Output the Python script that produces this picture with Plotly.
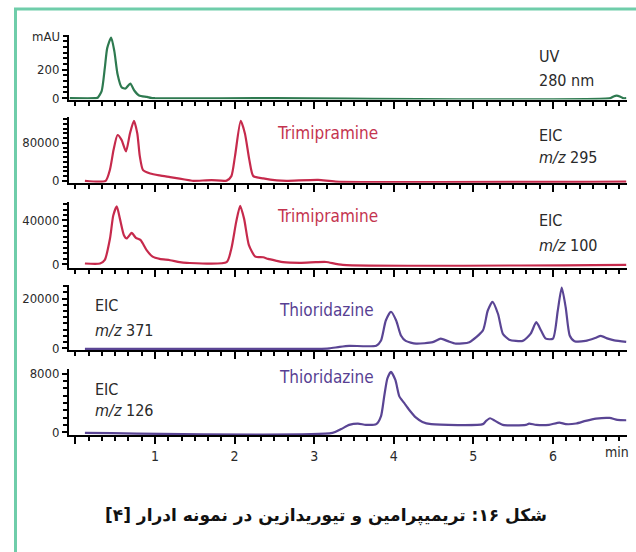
import plotly.graph_objects as go

W, H = 636, 552

# ---- chromatogram data: retention time (min) and detector response ----
uv_t = [-0.07, 0.25, 0.28, 0.33, 0.37, 0.40, 0.45, 0.49, 0.53, 0.58, 0.63, 0.69, 0.74,
        0.80, 0.90, 0.95, 1.00, 2.50, 6.72, 6.76, 6.80, 6.84, 6.88, 6.92]
uv_v = [0, 0, 3, 49, 213, 353, 428, 330, 168, 77, 68, 103, 54,
        19, 9, 2, 0, 0, 0, 12, 18, 12, 0, 0]

eic295_t = [0.12, 0.38, 0.435, 0.48, 0.53, 0.58, 0.636, 0.686, 0.736, 0.778, 0.81, 0.85,
            0.94, 1.06, 1.19, 1.31, 1.44, 1.48, 1.71, 1.90, 1.96, 2.005, 2.077, 2.13,
            2.185, 2.235, 2.36, 2.53, 2.65, 3.05, 3.27, 6.92]
eic295_v = [0, 0, 23900, 65500, 96700, 86300, 62000, 100000, 126400, 100000, 51500, 22500,
            15600, 11400, 7900, 4600, 1000, 0, 1500, 500, 10000, 51500, 126400, 100000,
            44700, 10000, 5200, 1000, 0, 2000, -1500, -1500]

eic100_t = [0.12, 0.31, 0.37, 0.435, 0.476, 0.52, 0.56, 0.61, 0.645, 0.707, 0.76, 0.82,
            0.895, 0.97, 1.06, 1.19, 1.31, 1.40, 1.90, 1.96, 2.02, 2.07, 2.12, 2.18,
            2.26, 2.36, 2.42, 2.53, 2.61, 2.82, 3.02, 3.15, 3.36, 6.92]
eic100_v = [600, 600, 3900, 23500, 44500, 53000, 41500, 26500, 23500, 28600, 24100, 22000,
            12900, 6900, 4800, 3600, 1800, 1200, 1800, 14400, 38500, 53500, 41500, 17400,
            6900, 6300, 4800, 3000, 1800, 1200, 1800, 2000, -600, -600]

eic371_t = [0.12, 3.05, 3.19, 3.32, 3.44, 3.78, 3.84, 3.90, 3.965, 4.03, 4.09, 4.15, 4.28,
            4.49, 4.59, 4.68, 4.78, 4.95, 5.12, 5.18, 5.24, 5.31, 5.37, 5.45, 5.62, 5.72,
            5.79, 5.85, 5.91, 6.00, 6.06, 6.11, 6.16, 6.21, 6.27, 6.41, 6.54, 6.60, 6.69,
            6.77, 6.92]
eic371_v = [-200, -200, 0, 600, 1000, 1100, 3200, 11200, 14700, 11200, 5200, 3000, 1900,
            2500, 3900, 2900, 1900, 2500, 7200, 15100, 18700, 13800, 5900, 3500, 3000, 5900,
            10500, 7200, 3900, 3900, 15100, 24400, 16400, 5200, 2900, 3000, 4300, 5000, 3900,
            3200, 2600]

eic126_t = [0.12, 3.23, 3.34, 3.44, 3.55, 3.65, 3.78, 3.84, 3.88, 3.92, 3.965, 4.02, 4.07,
            4.13, 4.19, 4.28, 4.36, 4.47, 5.12, 5.16, 5.21, 5.26, 5.37, 5.66, 5.70, 5.79,
            5.95, 6.08, 6.16, 6.29, 6.41, 6.54, 6.71, 6.81, 6.92]
eic126_v = [-100, -100, 430, 1000, 1180, 1000, 1100, 2200, 4900, 7330, 8230, 7120, 4880,
            3990, 3100, 1980, 1400, 1100, 1100, 1540, 1900, 1630, 1000, 1000, 1180, 1000,
            1000, 1310, 1100, 1180, 1540, 1850, 1940, 1670, 1630]

time_ticks = [0, 1, 2, 3, 4, 5, 6]
time_labels = ["", "1", "2", "3", "4", "5", "6"]

# ---- styling / layout ----
GREEN = "#2e7a50"
RED = "#c62a4c"
PURPLE = "#5a4594"
RED_TXT = "#c4344f"
PURPLE_TXT = "#583f93"
INK = "#2a2a2a"
FONT = "Liberation Sans Narrow, DejaVu Sans Condensed, Arial Narrow, sans-serif"
TICK_SIZE = 13

X0, X1 = 69, 627          # pixel extent of each time axis

panels = [
    dict(t=uv_t, v=uv_v, color=GREEN, top=33, bottom=99, yr=[-10, 449],
         yt=[0, 200], minor=40),
    dict(t=eic295_t, v=eic295_v, color=RED, top=117, bottom=183.5, yr=[-4200, 134000],
         yt=[0, 80000], minor=10000),
    dict(t=eic100_t, v=eic100_v, color=RED, top=203, bottom=270, yr=[-3600, 56900],
         yt=[0, 40000], minor=5000),
    dict(t=eic371_t, v=eic371_v, color=PURPLE, top=287, bottom=353.5, yr=[-800, 25500],
         yt=[0, 20000], minor=2500),
    dict(t=eic126_t, v=eic126_v, color=PURPLE, top=372, bottom=439.5, yr=[-400, 8670],
         yt=[0, 8000], minor=1000),
]

fig = go.Figure()
layout = dict(
    width=W, height=H, margin=dict(l=0, r=0, t=0, b=0),
    paper_bgcolor="white", plot_bgcolor="white", showlegend=False,
    font=dict(family=FONT, color=INK, size=TICK_SIZE),
)

n = len(panels)
for i, p in enumerate(panels, start=1):
    sfx = "" if i == 1 else str(i)
    fig.add_trace(go.Scatter(
        x=p["t"], y=p["v"], mode="lines", xaxis="x" + sfx, yaxis="y" + sfx,
        line=dict(color=p["color"], width=2.2, shape="spline", smoothing=0.6),
        hoverinfo="skip"))
    layout["xaxis" + sfx] = dict(
        domain=[X0 / W, X1 / W], range=[-0.08, 6.93], anchor="y" + sfx,
        showline=True, linecolor="black", linewidth=2, showgrid=False, zeroline=False,
        tickmode="array", tickvals=time_ticks, ticktext=time_labels,
        showticklabels=(i == n), ticks="outside", ticklen=7, tickwidth=2,
        tickcolor="black", tickfont=dict(size=14, color=INK, family=FONT),
        minor=dict(dtick=1 / 6, tick0=0, ticks="outside", ticklen=4, tickwidth=1.5,
                   tickcolor="black", showgrid=False),
    )
    layout["yaxis" + sfx] = dict(
        domain=[1 - p["bottom"] / H, 1 - p["top"] / H], range=p["yr"], anchor="x" + sfx,
        showline=True, linecolor="black", linewidth=2, showgrid=False, zeroline=False,
        tickmode="array", tickvals=p["yt"], ticktext=[f"{v}" for v in p["yt"]],
        ticks="outside", ticklen=5, tickwidth=2, tickcolor="black",
        tickfont=dict(size=TICK_SIZE, color=INK, family=FONT),
        minor=dict(dtick=p["minor"], tick0=0, ticks="outside", ticklen=4, tickwidth=1.5,
                   tickcolor="black", showgrid=False),
    )

fig.update_layout(**layout)


def note(text, x, y, color=INK, size=16, xanchor="left", family=FONT):
    fig.add_annotation(text=text, x=x / W, y=1 - y / H, xref="paper", yref="paper",
                       xanchor=xanchor, yanchor="middle", showarrow=False,
                       font=dict(size=size, color=color, family=family))


note("mAU", 62, 35, size=TICK_SIZE, xanchor="right")

note("UV", 537, 55)
note("280 nm", 537, 80)

note("Trimipramine", 327, 133, color=RED_TXT, size=17, xanchor="center")
note("EIC", 537, 135)
note("<i>m/z</i> 295", 537, 158)

note("Trimipramine", 327, 217, color=RED_TXT, size=17, xanchor="center")
note("EIC", 537, 222)
note("<i>m/z</i> 100", 537, 247)

note("EIC", 93, 308)
note("<i>m/z</i> 371", 93, 333)
note("Thioridazine", 376, 313, color=PURPLE_TXT, size=17, xanchor="right")

note("EIC", 93, 393)
note("<i>m/z</i> 126", 93, 415)
note("Thioridazine", 376, 381, color=PURPLE_TXT, size=17, xanchor="right")

note("min", 617, 457, size=14, xanchor="center")

# figure caption
note("<b>شکل ۱۶: تریمیپرامین و تیوریدازین در نمونه ادرار [۴]</b>", 326, 521,
     color="#111111", size=17, xanchor="center", family="DejaVu Sans, sans-serif")

# frame around the figure
fig.add_shape(type="rect", xref="paper", yref="paper",
              x0=15.5 / W, x1=1.05, y0=-0.05, y1=1 - 7 / H,
              line=dict(color="#6fcdaa", width=3), fillcolor="rgba(0,0,0,0)")

fig.write_html("out.html")
